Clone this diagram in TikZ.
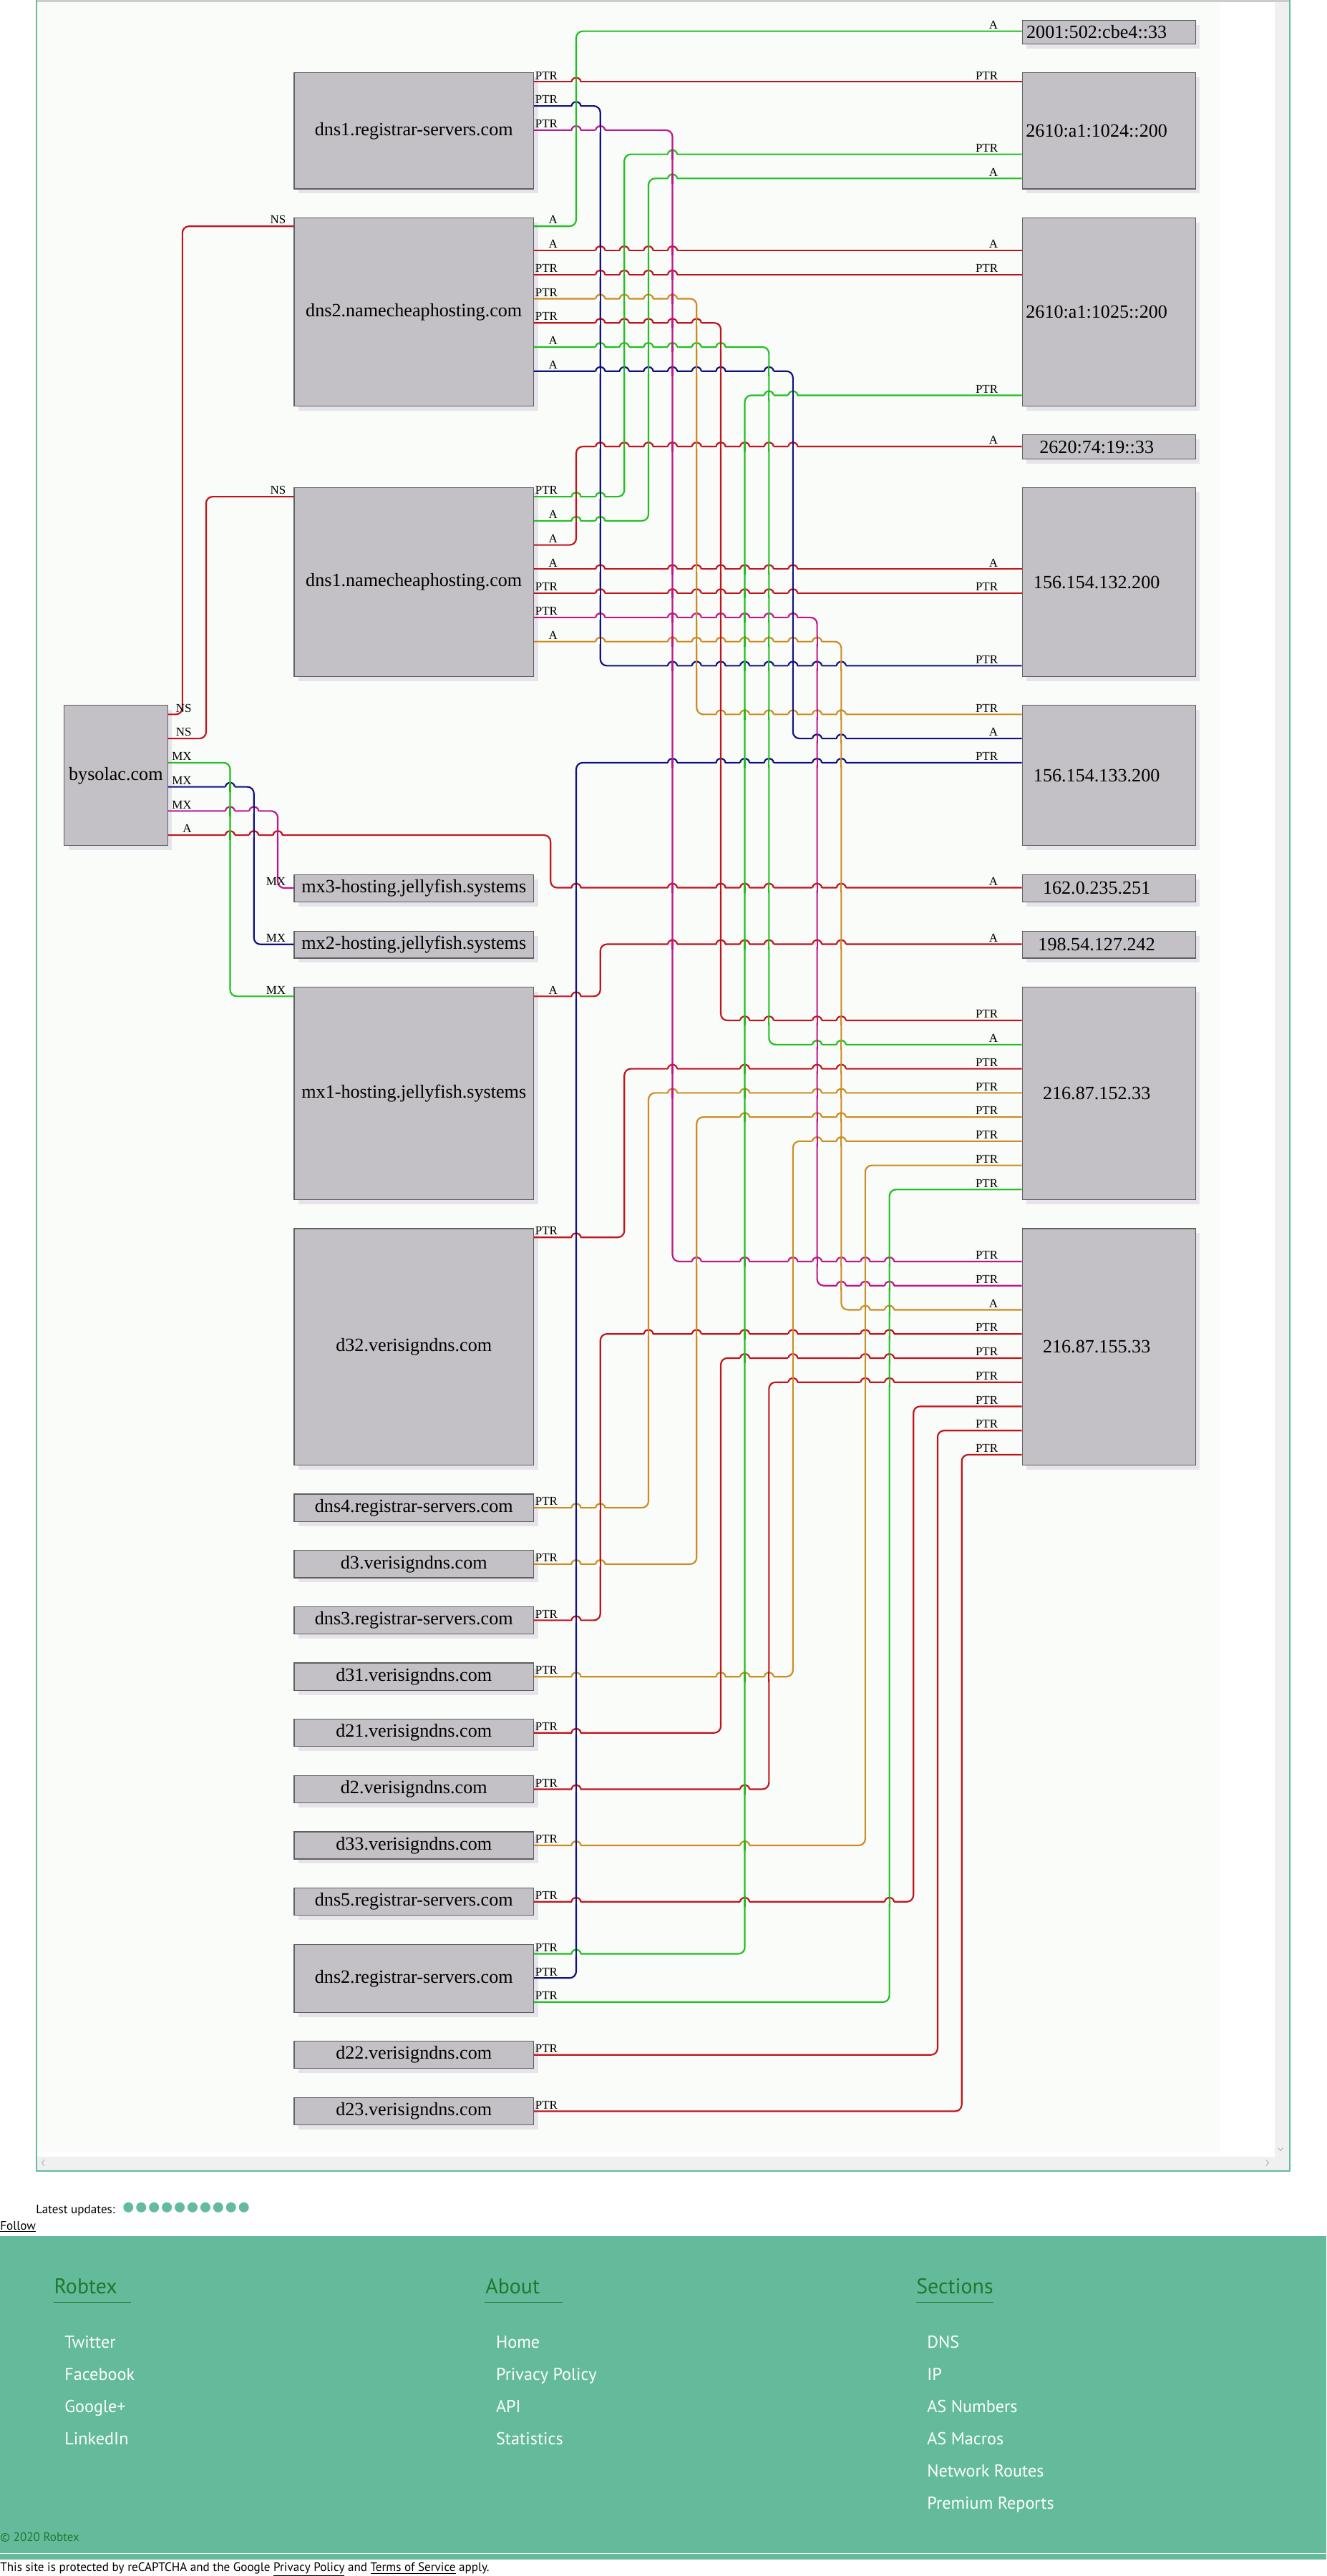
\documentclass[tikz,border=0pt]{standalone}
\usepackage{fontspec}
\setmainfont{Liberation Serif}
\newfontfamily\webfont{PT Sans}
\usetikzlibrary{shadows}

\definecolor{wred}{RGB}{192,20,28}
\definecolor{wgreen}{RGB}{34,190,34}
\definecolor{wblue}{RGB}{16,16,128}
\definecolor{wmag}{RGB}{190,22,140}
\definecolor{worg}{RGB}{204,140,34}
\definecolor{boxfill}{RGB}{195,193,197}
\definecolor{boxline}{RGB}{95,95,95}
\definecolor{boxshade}{RGB}{230,228,234}
\definecolor{chartbg}{RGB}{250,252,249}
\definecolor{robteal}{RGB}{99,187,156}
\definecolor{robgreen}{RGB}{35,120,45}
\definecolor{scrollgray}{RGB}{240,240,240}

% address text sits a bit left of the box centre
\newcommand\iptext[1]{\makebox[45.3mm]{#1}\hspace*{7.4mm}}

\tikzset{
        host/.style={rectangle, draw=boxline, line width=0.8pt, fill=boxfill, inner sep=0pt,
          font=\fontsize{16.2}{19}\selectfont,
          drop shadow={shadow xshift=1.3mm, shadow yshift=-1.4mm, fill=boxshade, opacity=1, draw=none}},
        hostL/.style={host, minimum width=72.85mm},
        hostR/.style={host, minimum width=52.7mm},
        wire/.style={line width=1.35pt, rounded corners=2mm},
        tag/.style={font=\fontsize{10.5}{12}\selectfont, inner sep=0pt, anchor=base east},
        web/.style={font=\webfont\fontsize{10.6}{13}\selectfont, inner sep=0pt, anchor=base west},
        weblink/.style={web, text=white, font=\webfont\fontsize{15}{18}\selectfont},
        webhead/.style={web, text=robgreen, font=\webfont\fontsize{18.5}{22}\selectfont},
}

% colour/source/source x/y out/riser x/y in/target/target x/label out/label in/label gap
\def\wirelist{%
wgreen/ncB/324.7/137.7/350.6/19.0/ipA/622/A/A/14.7,%
wred/regA/324.7/49.8/600/49.8/ipB/622/PTR/PTR/14.7,%
wblue/regA/324.7/64.5/365.3/405.2/ipE/622/PTR/PTR/14.7,%
wmag/regA/324.7/79.2/409.2/767.8/ipJ/622/PTR/PTR/14.7,%
wgreen/ncA/324.7/302.3/379.9/93.9/ipB/622/PTR/PTR/14.7,%
wgreen/ncA/324.7/317.0/394.6/108.6/ipB/622/A/A/14.7,%
wred/ncB/324.7/152.4/600/152.4/ipC/622/A/A/14.7,%
wred/ncB/324.7/167.1/600/167.1/ipC/622/PTR/PTR/14.7,%
worg/ncB/324.7/181.8/423.9/434.8/ipF/622/PTR/PTR/14.7,%
wred/ncB/324.7/196.5/438.6/621.1/ipI/622/PTR/PTR/14.7,%
wgreen/ncB/324.7/211.2/467.9/635.8/ipI/622/A/A/14.7,%
wblue/ncB/324.7/225.9/482.5/449.5/ipF/622/A/A/14.7,%
wgreen/reg2/324.7/1189.2/453.2/240.6/ipC/622/PTR/PTR/14.7,%
wred/ncA/324.7/331.7/350.6/271.8/ipD/622/A/A/14.7,%
wred/ncA/324.7/346.4/600/346.4/ipE/622/A/A/14.7,%
wred/ncA/324.7/361.1/600/361.1/ipE/622/PTR/PTR/14.7,%
wmag/ncA/324.7/375.8/497.2/782.5/ipJ/622/PTR/PTR/14.7,%
worg/ncA/324.7/390.5/511.9/797.2/ipJ/622/A/A/14.7,%
wblue/reg2/324.7/1203.9/350.6/464.2/ipF/622/PTR/PTR/14.7,%
wred/bys/102/434.8/111/137.7/ncB/179/NS/NS/5,%
wred/bys/102/449.5/125.4/302.3/ncA/179/NS/NS/5,%
wgreen/bys/102/464.2/140/606.4/mxA/179/MX/MX/5,%
wblue/bys/102/478.9/154.5/574.8/mxB/179/MX/MX/5,%
wmag/bys/102/493.6/169/540.5/mxC/179/MX/MX/5,%
wred/bys/102/508.3/335/540.3/ipG/622/A/A/14.7,%
wred/mxA/324.7/606.4/365.3/574.7/ipH/622/A/A/14.7,%
wred/vs32/324.7/753.1/379.9/650.5/ipI/622/PTR/PTR/14.7,%
worg/reg4/324.7/917.7/394.6/665.2/ipI/622/PTR/PTR/14.7,%
worg/vs3/324.7/952.0/423.9/679.9/ipI/622/PTR/PTR/14.7,%
worg/vs31/324.7/1020.5/482.5/694.6/ipI/622/PTR/PTR/14.7,%
worg/vs33/324.7/1123.2/526.5/709.3/ipI/622/PTR/PTR/14.7,%
wgreen/reg2/324.7/1218.6/541.2/724.0/ipI/622/PTR/PTR/14.7,%
wred/reg3/324.7/986.2/365.3/811.9/ipJ/622/PTR/PTR/14.7,%
wred/vs21/324.7/1054.7/438.6/826.6/ipJ/622/PTR/PTR/14.7,%
wred/vs2/324.7/1089.0/467.9/841.3/ipJ/622/PTR/PTR/14.7,%
wred/reg5/324.7/1157.5/555.8/856.0/ipJ/622/PTR/PTR/14.7,%
wred/vs22/324.7/1250.7/570.5/870.7/ipJ/622/PTR/PTR/14.7,%
wred/vs23/324.7/1285.0/585.2/885.4/ipJ/622/PTR/PTR/14.7}

% run colour, run y, run x ends, riser colour, riser x, riser y ends
\newcommand\hopover[8]{%
  \pgfmathtruncatemacro\hit{and(abs(#6-(#3+#4)/2)<abs(#4-#3)/2-1,abs(#2-(#7+#8)/2)<abs(#8-#7)/2-1)}%
  \ifnum\hit=1
    \fill[chartbg] (#6-2.8,#2-1.4) rectangle (#6+2.8,#2+1.4);
    \draw[line width=1.35pt,#1] (#6-2.8,#2) arc[start angle=180,end angle=360,x radius=2.8,y radius=2.5];
    \draw[line width=1.35pt,#5] (#6,#2-3.2) -- (#6,#2+3.2);
  \fi}

\begin{document}
\begin{tikzpicture}[x=0.5mm, y=-0.5mm]
      \useasboundingbox (0,0) rectangle (807.05,1567.9);
      % FRAME AND SCROLLBARS
      \fill[chartbg] (22.2,0) rectangle (742.6,1310);
      \fill[scrollgray] (775.7,0) rectangle (784.8,1312.5);
      \fill[scrollgray] (22.2,1312.5) rectangle (784.8,1321.4);
      \fill[black!20] (22.2,0) rectangle (784.8,1.3);
      \draw[robteal, line width=1.3pt] (22.2,-2) -- (22.2,1321.4) -- (784.8,1321.4) -- (784.8,-2);
      \draw[black!35, line width=0.5pt] (27,1314.6) -- (25.4,1316.4) -- (27,1318.2);
      \draw[black!35, line width=0.5pt] (770.4,1314.6) -- (772,1316.4) -- (770.4,1318.2);
      \draw[black!35, line width=0.5pt] (777.8,1307.4) -- (779.2,1309) -- (780.6,1307.4);

      % LEFT HOSTS
      \node[host, minimum width=31.5mm, minimum height=42.7mm] (bys) at (70.5,472) {bysolac.com};
      \node[hostL, minimum height=35.4mm] (regA) at (251.85,79.6) {dns1.registrar-servers.com};
      \node[hostL, minimum height=57.35mm] (ncB) at (251.85,189.85) {dns2.namecheaphosting.com};
      \node[hostL, minimum height=57.5mm] (ncA) at (251.85,354.3) {dns1.namecheaphosting.com};
      \node[hostL, minimum height=8.25mm] (mxC) at (251.85,540.65) {mx3-hosting.jellyfish.systems};
      \node[hostL, minimum height=8.2mm] (mxB) at (251.85,574.9) {mx2-hosting.jellyfish.systems};
      \node[hostL, minimum height=64.65mm] (mxA) at (251.85,665.55) {mx1-hosting.jellyfish.systems};
      \node[hostL, minimum height=72mm] (vs32) at (251.85,819.8) {d32.verisigndns.com};
      \node[hostL, minimum height=8.3mm] (reg4) at (251.85,917.7) {dns4.registrar-servers.com};
      \node[hostL, minimum height=8.3mm] (vs3) at (251.85,952.0) {d3.verisigndns.com};
      \node[hostL, minimum height=8.3mm] (reg3) at (251.85,986.2) {dns3.registrar-servers.com};
      \node[hostL, minimum height=8.3mm] (vs31) at (251.85,1020.5) {d31.verisigndns.com};
      \node[hostL, minimum height=8.3mm] (vs21) at (251.85,1054.7) {d21.verisigndns.com};
      \node[hostL, minimum height=8.3mm] (vs2) at (251.85,1089.0) {d2.verisigndns.com};
      \node[hostL, minimum height=8.3mm] (vs33) at (251.85,1123.2) {d33.verisigndns.com};
      \node[hostL, minimum height=8.3mm] (reg5) at (251.85,1157.5) {dns5.registrar-servers.com};
      \node[hostL, minimum height=20.65mm] (reg2) at (251.85,1204.15) {dns2.registrar-servers.com};
      \node[hostL, minimum height=8.3mm] (vs22) at (251.85,1250.7) {d22.verisigndns.com};
      \node[hostL, minimum height=8.3mm] (vs23) at (251.85,1285.0) {d23.verisigndns.com};

      % RIGHT HOSTS
      \node[hostR, minimum height=7.2mm] (ipA) at (674.7,19.5) {\iptext{2001:502:cbe4::33}};
      \node[hostR, minimum height=35.4mm] (ipB) at (674.7,79.6) {\iptext{2610:a1:1024::200}};
      \node[hostR, minimum height=57.35mm] (ipC) at (674.7,189.85) {\iptext{2610:a1:1025::200}};
      \node[hostR, minimum height=7.4mm] (ipD) at (674.7,272.0) {\iptext{2620:74:19::33}};
      \node[hostR, minimum height=57.5mm] (ipE) at (674.7,354.3) {\iptext{156.154.132.200}};
      \node[hostR, minimum height=42.7mm] (ipF) at (674.7,472) {\iptext{156.154.133.200}};
      \node[hostR, minimum height=8.25mm] (ipG) at (674.7,540.65) {\iptext{162.0.235.251}};
      \node[hostR, minimum height=8.2mm] (ipH) at (674.7,574.9) {\iptext{198.54.127.242}};
      \node[hostR, minimum height=64.65mm] (ipI) at (674.7,665.55) {\iptext{216.87.152.33}};
      \node[hostR, minimum height=72mm] (ipJ) at (674.7,819.8) {\iptext{216.87.155.33}};

      % WIRING
      \foreach \wc/\ws/\wsx/\wya/\wxc/\wyb/\wt/\wtx/\wla/\wlb/\woff [count=\n] in \wirelist {
        \ifdim\wya pt=\wyb pt
          \draw[wire, \wc] (\ws.east |- 0,\wya) -- (\wt.west |- 0,\wyb);
        \else
          \draw[wire, \wc] (\ws.east |- 0,\wya) -- (\wxc,\wya) -- (\wxc,\wyb) -- (\wt.west |- 0,\wyb);
        \fi
        \node[tag] (out\n) at (\wsx+14.7,\wya-1.4) {\wla};
        \node[tag] (in\n) at (\wtx-\woff,\wyb-1.4) {\wlb};
      }
      % hops where a run passes a riser
      \foreach \wc/\ws/\wsx/\wya/\wxc/\wyb/\wt/\wtx/\wla/\wlb/\woff in \wirelist {
        \foreach \rc/\rs/\rsx/\rya/\rxc/\ryb/\rt/\rtx/\rla/\rlb/\roff in \wirelist {
          \hopover{\wc}{\wya}{\wsx}{\wxc}{\rc}{\rxc}{\rya}{\ryb}
          \hopover{\wc}{\wyb}{\wxc}{\wtx}{\rc}{\rxc}{\rya}{\ryb}
        }
      }

      % PAGE FOOTER
      \node[web] (latest) at (21.8,1347.1) {Latest updates:};
      \foreach \i in {0,...,9}
        \fill[robteal] (78.1+7.81*\i,1343.5) circle[radius=3.05];
      \node[web] (follow) at (0,1357.1) {\underline{Follow}};
      \fill[robteal] (0,1360.9) rectangle (807.05,1558);
      \draw[white, line width=0.4pt] (0,1553.9) -- (807.05,1553.9);

      \node[webhead] (colA) at (32.8,1395.9) {Robtex};
      \node[webhead] (colB) at (295.3,1395.9) {About};
      \node[webhead] (colC) at (557.5,1395.9) {Sections};
      \draw[robgreen, line width=0.5pt] (32.5,1401.3) -- (79.6,1401.3);
      \draw[robgreen, line width=0.5pt] (294.7,1401.3) -- (342.3,1401.3);
      \draw[robgreen, line width=0.5pt] (557.5,1401.3) -- (604.7,1401.3);

      \node[weblink] (twitter) at (39.2,1429.3) {Twitter};
      \node[weblink] (facebook) at (39.2,1448.8) {Facebook};
      \node[weblink] (google) at (39.2,1468.3) {Google+};
      \node[weblink] (linkedin) at (39.2,1488.0) {LinkedIn};
      \node[weblink] (home) at (301.7,1429.3) {Home};
      \node[weblink] (privacy) at (301.7,1448.8) {Privacy Policy};
      \node[weblink] (api) at (301.7,1468.3) {API};
      \node[weblink] (stats) at (301.7,1488.0) {Statistics};
      \node[weblink] (dns) at (564,1429.3) {DNS};
      \node[weblink] (ip) at (564,1448.8) {IP};
      \node[weblink] (asnum) at (564,1468.3) {AS Numbers};
      \node[weblink] (asmac) at (564,1488.0) {AS Macros};
      \node[weblink] (routes) at (564,1507.5) {Network Routes};
      \node[weblink] (premium) at (564,1527.2) {Premium Reports};

      \node[web, text=robgreen] (copy) at (0,1546.6) {© 2020 Robtex};
      \node[web] (captcha) at (0,1565.1) {This site is protected by reCAPTCHA and the Google \underline{Privacy Policy} and \underline{Terms of Service} apply.};
\end{tikzpicture}
\end{document}
